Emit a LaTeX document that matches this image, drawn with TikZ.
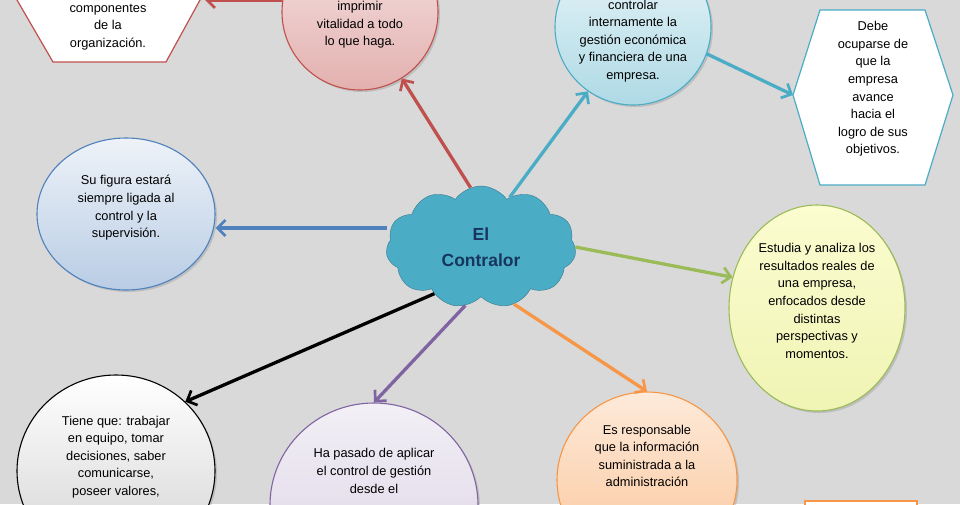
\documentclass[tikz,border=0pt]{standalone}
\usepackage{fontspec}
\setmainfont{Liberation Sans}
\usetikzlibrary{shapes.geometric,shapes.symbols,arrows.meta,shadows}
\definecolor{cRed}{HTML}{C0504D}
\definecolor{cBlue}{HTML}{4F81BD}
\definecolor{cPur}{HTML}{8064A2}
\definecolor{cOra}{HTML}{F79646}
\definecolor{cGre}{HTML}{9BBB59}
\definecolor{cCya}{HTML}{4BACC6}
\definecolor{cNavy}{HTML}{17365D}
\begin{document}
\begin{tikzpicture}[x=1pt,y=-1pt,
  txt/.style={align=center,font=\fontsize{12.8}{17.6}\selectfont,text=black},
  circ/.style={ellipse,draw,line width=1.1pt,txt,drop shadow={opacity=0.3,shadow xshift=2pt,shadow yshift=-2pt}},
  arr/.style={line width=3.3pt,-{Straight Barb[length=8pt,width=16pt,line width=2.7pt]}}]
\useasboundingbox (0,0) rectangle (960,504);
\clip (0,0) rectangle (960,504);
\fill[black!15] (0,0) rectangle (960,504);
% nodes
\node[circ,minimum width=156,minimum height=156,draw=cRed,top color=cRed!15,bottom color=cRed!45] (red) at (360,12) {};
\node[txt] at (360,25) {imprimir\\vitalidad a todo\\lo que haga.};
\node[circ,minimum width=156,minimum height=156,draw=cCya,top color=cCya!12,bottom color=cCya!45] (cyan) at (633,27) {};
\node[txt] at (633,41) {controlar\\internamente la\\gestión económica\\y financiera de una\\empresa.};
\node[circ,minimum width=178,minimum height=152,draw=cBlue,top color=cBlue!10,bottom color=cBlue!40] (blue) at (126,214) {};
\node[txt] at (126,208) {Su figura estará\\siempre ligada al\\control y la\\supervisión.};
\node[circ,minimum width=176,minimum height=206,draw=cGre,top color=cGre!20!yellow!20,bottom color=cGre!45!yellow!35] (green) at (817,308) {};
\node[txt] at (817,301) {Estudia y analiza los\\resultados reales de\\una empresa,\\enfocados desde\\distintas\\perspectivas y\\momentos.};
\node[circ,minimum width=198,minimum height=192,draw=black,top color=white,bottom color=gray!35] (gray) at (116,471) {};
\node[txt] at (116,457) {Tiene que: trabajar\\en equipo, tomar\\decisiones, saber\\comunicarse,\\poseer valores,};
\node[circ,minimum width=208,minimum height=204,draw=cPur,top color=cPur!10,bottom color=cPur!30] (purple) at (374,505) {};
\node[txt] at (374,471) {Ha pasado de aplicar\\el control de gestión\\desde el};
\node[circ,minimum width=180,minimum height=176,draw=cOra,top color=cOra!20,bottom color=cOra!55] (orange) at (647,480) {};
\node[txt] at (647,456) {Es responsable\\que la información\\suministrada a la\\administración};
\draw[cRed,line width=1.2pt,fill=white] (10,-15) -- (205,-15) -- (200,0) -- (166,62) -- (53,62) -- (17,0) -- cycle;
\node[txt] (hexl) at (108,27) {componentes\\de la\\organización.};
\draw[cCya,line width=1.2pt,fill=white] (793,95) -- (820,10) -- (925,10) -- (953,95) -- (925,185) -- (820,185) -- cycle;
\node[txt] (hexr) at (873,89) {Debe\\ocuparse de\\que la\\empresa\\avance\\hacia el\\logro de sus\\objetivos.};
\coordinate (hexrl) at (793,95);
\draw[cOra,line width=1.2pt,fill=white] (805,501) rectangle (917,520);
% cloud
\node[cloud,cloud puffs=11,cloud puff arc=110,aspect=1.6,draw=cCya!70!black,fill=cCya,minimum width=190,minimum height=122,font=\fontsize{17.5}{26}\selectfont\bfseries,text=cNavy,align=center] (cloud) at (481,247) {El\\Contralor};
% arrows
\coordinate (rs) at (282,0);
\coordinate (he) at (205,0);
\draw[arr,cRed] (rs) -- (he);
\draw[arr,cRed] (cloud.100) -- (red);
\draw[arr,cBlue] (cloud.west|-0,228) -- (blue.east|-0,228);
\draw[arr,black] (cloud.225) -- (gray.45);
\draw[arr,cPur] (cloud.255) -- (purple.north);
\draw[arr,cOra] (cloud.300) -- (orange.north);
\draw[arr,cGre] (cloud.east) -- (green.160);
\draw[arr,cCya] (cloud.60) -- (cyan.235);
\draw[arr,cCya] (cyan.-20) -- (hexrl);
\end{tikzpicture}
\end{document}
